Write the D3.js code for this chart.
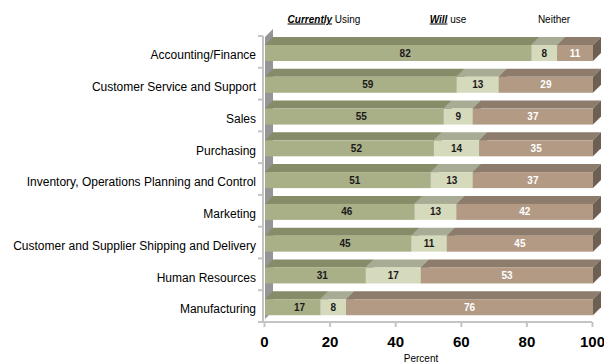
<!DOCTYPE html>
<html>
<head>
<meta charset="utf-8">
<script src="https://cdn.jsdelivr.net/npm/d3@7"></script>
<style>
  html, body { margin: 0; padding: 0; background: #fff; }
  svg { display: block; font-family: Arial, "Liberation Sans", sans-serif; }
</style>
</head>
<body>
<svg id="chart" width="604" height="362"></svg>
<script>
// Business functions surveyed
const categories = [
  "Accounting/Finance",
  "Customer Service and Support",
  "Sales",
  "Purchasing",
  "Inventory, Operations Planning and Control",
  "Marketing",
  "Customer and Supplier Shipping and Delivery",
  "Human Resources",
  "Manufacturing"
];
// Percent of respondents per function
const currentlyUsing = [82, 59, 55, 52, 51, 46, 45, 31, 17];
const willUse        = [8, 13, 9, 14, 13, 13, 11, 17, 8];
const neither        = [11, 29, 37, 35, 37, 42, 45, 53, 76];
const seriesKeys = ["current", "will", "neither"];
const xTicks = [0, 20, 40, 60, 80, 100];

// Face colours for each series: front, top, side
const palette = {
  current: { front: "#a9b088", top: "#868c68", side: "#6b7052" },
  will:    { front: "#d6dabd", top: "#a9ac94", side: "#888a76" },
  neither: { front: "#b39a84", top: "#8d7b6b", side: "#6d5f51" }
};
const labelColor = { current: "#1a1a1a", will: "#1a1a1a", neither: "#ffffff" };

const rows = categories.map((c, i) => ({
  category: c, current: currentlyUsing[i], will: willUse[i], neither: neither[i]
}));

// 100% stacked layout
const stacked = d3.stack().keys(seriesKeys).offset(d3.stackOffsetExpand)(rows);

const svg = d3.select("#chart");
const depth = 8;          // 3-D extrusion offset (right and up)
const faceH = 16;         // front face height
const faceTop = 9;        // front face offset inside its band

const x = d3.scaleLinear().domain([0, 1]).range([265, 593]);
const y = d3.scaleBand().domain(categories).range([36, 322]);

// Back wall on the left of the plot
const wallTop = y.range()[0] + 1, wallBot = y.range()[1] - 3;
svg.append("path")
  .attr("d", `M${x(0)},${wallTop} L${x(0) + depth},${wallTop - depth} L${x(0) + depth},${wallBot - depth} L${x(0)},${wallBot} Z`)
  .attr("fill", "#959595");

// Bars, drawn top row first, segments left to right
const segs = [];
stacked.forEach(s => s.forEach((d, i) => segs.push({ key: s.key, d, i })));
segs.sort((a, b) => a.i - b.i || seriesKeys.indexOf(a.key) - seriesKeys.indexOf(b.key));

const g = svg.append("g");
segs.forEach(({ key, d }) => {
  const x0 = x(d[0]), x1 = x(d[1]);
  const yf = y(d.data.category) + faceTop;
  const col = palette[key];
  const seg = g.append("g");
  seg.append("path")
    .attr("d", `M${x0},${yf} L${x0 + depth},${yf - depth} L${x1 + depth},${yf - depth} L${x1},${yf} Z`)
    .attr("fill", col.top);
  seg.append("rect")
    .attr("x", x0).attr("y", yf).attr("width", x1 - x0).attr("height", faceH)
    .attr("fill", col.front);
  seg.append("path")
    .attr("d", `M${x1},${yf} L${x1 + depth},${yf - depth} L${x1 + depth},${yf + faceH - depth} L${x1},${yf + faceH} Z`)
    .attr("fill", col.side);
});

// Value labels on the front faces
segs.forEach(({ key, d }) => {
  const x0 = x(d[0]), x1 = x(d[1]);
  const yf = y(d.data.category) + faceTop;
  svg.append("text")
    .attr("x", (x0 + x1) / 2 + (key === "current" ? 7 : 0))
    .attr("y", yf + faceH / 2)
    .attr("dy", "0.35em")
    .attr("text-anchor", "middle")
    .attr("font-size", "10px")
    .attr("font-weight", "bold")
    .attr("fill", labelColor[key])
    .text(d.data[key]);
});

// Left category axis
const axisColor = "#c4c4c4";
svg.append("line")
  .attr("x1", 263).attr("x2", 263).attr("y1", y.range()[0]).attr("y2", y.range()[1])
  .attr("stroke", axisColor).attr("stroke-width", 2);
const bounds = categories.map(c => y(c)).concat([y.range()[1]]);
svg.selectAll(".ytick").data(bounds).enter().append("line")
  .attr("x1", 258).attr("x2", 263).attr("y1", d => d).attr("y2", d => d)
  .attr("stroke", axisColor).attr("stroke-width", 2);
svg.selectAll(".ylab").data(categories).enter().append("text")
  .attr("x", 256).attr("y", d => y(d) + 19).attr("dy", "0.35em")
  .attr("text-anchor", "end").attr("font-size", "12px").attr("fill", "#000")
  .text(d => d);

// Bottom percent axis
const xp = d3.scaleLinear().domain([0, 100]).range([264, 592]);
const xAxis = svg.append("g").attr("transform", "translate(0,322)")
  .call(d3.axisBottom(xp).tickValues(xTicks).tickSize(5).tickPadding(9).tickFormat(d3.format("d")));
xAxis.select(".domain").attr("stroke", axisColor).attr("stroke-width", 2)
  .attr("d", `M259,0H${xp(100)}`);
xAxis.selectAll(".tick line").attr("stroke", axisColor).attr("stroke-width", 2);
xAxis.selectAll(".tick text").attr("font-size", "15px").attr("font-weight", "bold")
  .attr("fill", "#000").attr("font-family", "Arial, 'Liberation Sans', sans-serif");

svg.append("text").attr("x", 421).attr("y", 358).attr("dy", "0.35em")
  .attr("text-anchor", "middle").attr("font-size", "10px").text("Percent");

// Column headers for the three series
const headers = [
  { cx: 324, parts: [{ t: "Currently", em: true }, { t: " Using" }] },
  { cx: 448, parts: [{ t: "Will", em: true }, { t: " use" }] },
  { cx: 554, parts: [{ t: "Neither" }] }
];
headers.forEach(h => {
  const t = svg.append("text").attr("x", h.cx).attr("y", 19).attr("dy", "0.35em")
    .attr("text-anchor", "middle").attr("font-size", "10px");
  h.parts.forEach(p => {
    const ts = t.append("tspan").text(p.t);
    if (p.em) ts.attr("font-weight", "bold").attr("font-style", "italic").attr("text-decoration", "underline");
  });
});
</script>
</body>
</html>
